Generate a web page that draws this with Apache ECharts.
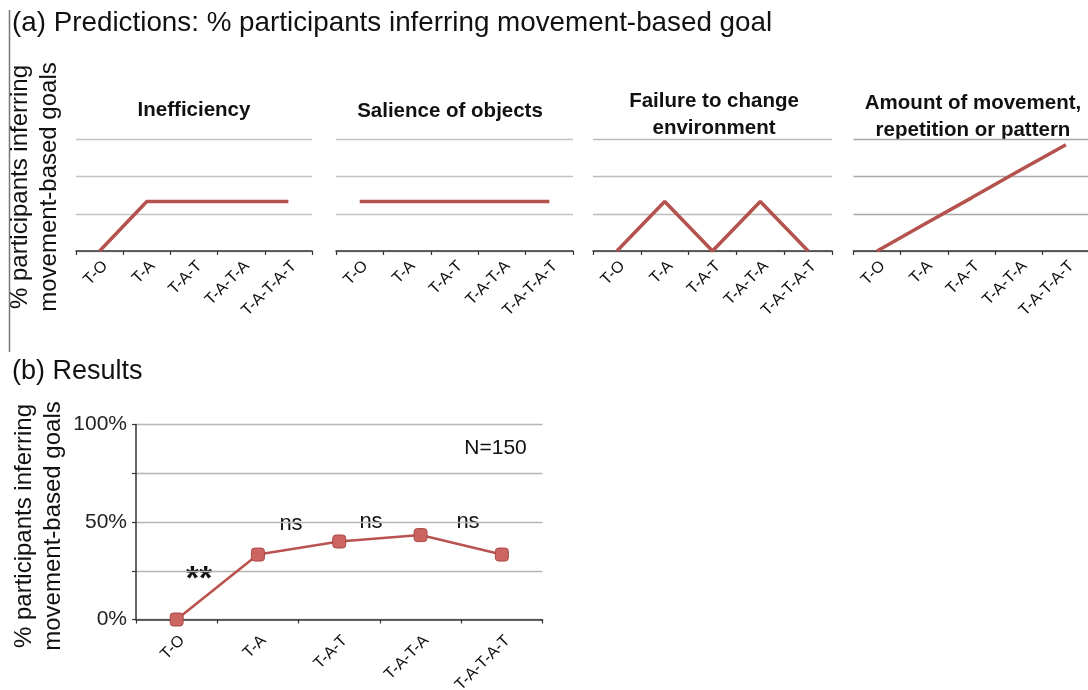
<!DOCTYPE html>
<html>
<head>
<meta charset="utf-8">
<script src="https://cdn.jsdelivr.net/npm/echarts@6/dist/echarts.min.js"></script>
<style>
html,body{margin:0;padding:0;background:#fff;}
#chart{width:1088px;height:690px;}
</style>
</head>
<body>
<div id="chart"></div>
<script>
// ---- data ----
const categories = ['T-O', 'T-A', 'T-A-T', 'T-A-T-A', 'T-A-T-A-T'];
const panelTitles = ['Inefficiency', 'Salience of objects', 'Failure to change\nenvironment', 'Amount of movement,\nrepetition or pattern'];
const inefficiency = [0, 1.33, 1.33, 1.33, 1.33];
const salience = [1.33, 1.33, 1.33, 1.33, 1.33];
const failure = [0, 1.33, 0, 1.33, 0];
const amount = [0, 0.72, 1.43, 2.15, 2.86];
const results = [0, 33.3, 40, 43.3, 33.3];
const resultTickValues = [0, 50, 100];
const annotations = ['**', 'ns', 'ns', 'ns'];
const sampleNote = 'N=150';
const titleA = '(a) Predictions: % participants inferring movement-based goal';
const titleB = '(b) Results';
const yTitle = '% participants inferring\nmovement-based goals';

const FONT = "'Liberation Sans', Arial, Helvetica, sans-serif";
const predictions = [inefficiency, salience, failure, amount];

// layout (pixels)
const panelA = [
  {left: 76, width: 236, titleX: 194, titleY: 110},
  {left: 336, width: 237, titleX: 450, titleY: 111},
  {left: 593, width: 239, titleX: 714, titleY: 115},
  {left: 853.5, width: 236, titleX: 973, titleY: 116.5}
];
const gridColorA = ['#c4c4c4', '#c4c4c4', '#bcbcbc', '#a8a8a8'];

const grids = [], xAxes = [], yAxes = [], series = [], graphics = [];

panelA.forEach((p, i) => {
  grids.push({left: p.left, width: p.width, top: 139.5, height: 111.5, containLabel: false, outerBoundsMode: 'none'});
  xAxes.push({
    type: 'category', gridIndex: i, data: categories, boundaryGap: true,
    axisLine: {lineStyle: {color: '#333', width: 1.5}},
    axisTick: {show: true, length: 4, interval: 0, lineStyle: {color: '#333', width: 1.2}},
    axisLabel: {interval: 0, rotate: 45, fontSize: 16, margin: 7, color: '#111', fontFamily: FONT,
      verticalAlign: 'top'}
  });
  yAxes.push({
    type: 'value', gridIndex: i, min: 0, max: 3, interval: 1,
    axisLine: {show: false}, axisTick: {show: false}, axisLabel: {show: false},
    splitLine: {show: true, lineStyle: {color: gridColorA[i], width: 1.3}}
  });
  series.push({
    type: 'line', xAxisIndex: i, yAxisIndex: i, data: predictions[i],
    symbol: 'none', lineStyle: {color: '#b4524e', width: 3.5}, z: 3
  });
  graphics.push({
    type: 'text', x: p.titleX, y: p.titleY,
    style: {text: panelTitles[i], font: 'bold 20.5px ' + FONT, fill: '#111',
      align: 'center', verticalAlign: 'middle', textAlign: 'center', textVerticalAlign: 'middle', lineHeight: 27}
  });
});

// panel b
grids.push({left: 136, right: 545.5, top: 424.5, bottom: 70.5, containLabel: false, outerBoundsMode: 'none'});
xAxes.push({
  type: 'category', gridIndex: 4, data: categories, boundaryGap: true,
  axisLine: {lineStyle: {color: '#333', width: 1.5}},
  axisTick: {show: true, length: 4, interval: 0, lineStyle: {color: '#333', width: 1.2}},
  axisLabel: {interval: 0, rotate: 45, fontSize: 16, margin: 13, color: '#111', fontFamily: FONT,
    verticalAlign: 'top'}
});
yAxes.push({
  type: 'value', gridIndex: 4, min: 0, max: 100, interval: 25,
  axisLine: {show: true, lineStyle: {color: '#333', width: 1.5}},
  axisTick: {show: true, length: 4, lineStyle: {color: '#333', width: 1.2}},
  axisLabel: {fontSize: 21, margin: 9, color: '#222', fontFamily: FONT,
    formatter: v => resultTickValues.indexOf(v) >= 0 ? v + '%' : ''},
  splitLine: {show: true, lineStyle: {color: '#b5b5b5', width: 1.3}}
});
series.push({
  type: 'line', xAxisIndex: 4, yAxisIndex: 4, data: results,
  symbol: 'roundRect', symbolSize: 13,
  itemStyle: {color: '#cc6561', borderColor: '#a94a47', borderWidth: 1},
  lineStyle: {color: '#b9534f', width: 2.6}, z: 3
});

// texts
const centered = {align: 'center', verticalAlign: 'middle', textAlign: 'center', textVerticalAlign: 'middle'};
graphics.push(
  {type: 'text', x: 12, y: 23, style: {text: titleA, font: '27.8px ' + FONT, fill: '#111',
    align: 'left', verticalAlign: 'middle', textAlign: 'left', textVerticalAlign: 'middle'}},
  {type: 'text', x: 12, y: 372, style: {text: titleB, font: '27px ' + FONT, fill: '#111',
    align: 'left', verticalAlign: 'middle', textAlign: 'left', textVerticalAlign: 'middle'}},
  {type: 'line', shape: {x1: 9.5, y1: 10, x2: 9.5, y2: 352}, style: {stroke: '#777', lineWidth: 1.5}},
  {type: 'text', x: 35, y: 187, rotation: Math.PI / 2,
    style: Object.assign({text: yTitle, font: '24px ' + FONT, fill: '#111', lineHeight: 29}, centered)},
  {type: 'text', x: 39, y: 526, rotation: Math.PI / 2,
    style: Object.assign({text: yTitle, font: '24px ' + FONT, fill: '#111', lineHeight: 29}, centered)},
  {type: 'text', x: 199, y: 580, style: Object.assign({text: annotations[0], font: 'bold 34px ' + FONT, fill: '#111'}, centered)},
  {type: 'text', x: 291, y: 524, style: Object.assign({text: annotations[1], font: '22px ' + FONT, fill: '#111'}, centered)},
  {type: 'text', x: 371, y: 522, style: Object.assign({text: annotations[2], font: '22px ' + FONT, fill: '#111'}, centered)},
  {type: 'text', x: 468, y: 522, style: Object.assign({text: annotations[3], font: '22px ' + FONT, fill: '#111'}, centered)},
  {type: 'text', x: 495.5, y: 448.5, style: Object.assign({text: sampleNote, font: '21px ' + FONT, fill: '#111'}, centered)}
);

const chart = echarts.init(document.getElementById('chart'), null, {renderer: 'canvas'});
chart.setOption({
  backgroundColor: '#ffffff',
  animation: false,
  textStyle: {fontFamily: FONT},
  grid: grids, xAxis: xAxes, yAxis: yAxes, series: series,
  graphic: graphics
});
</script>
</body>
</html>
